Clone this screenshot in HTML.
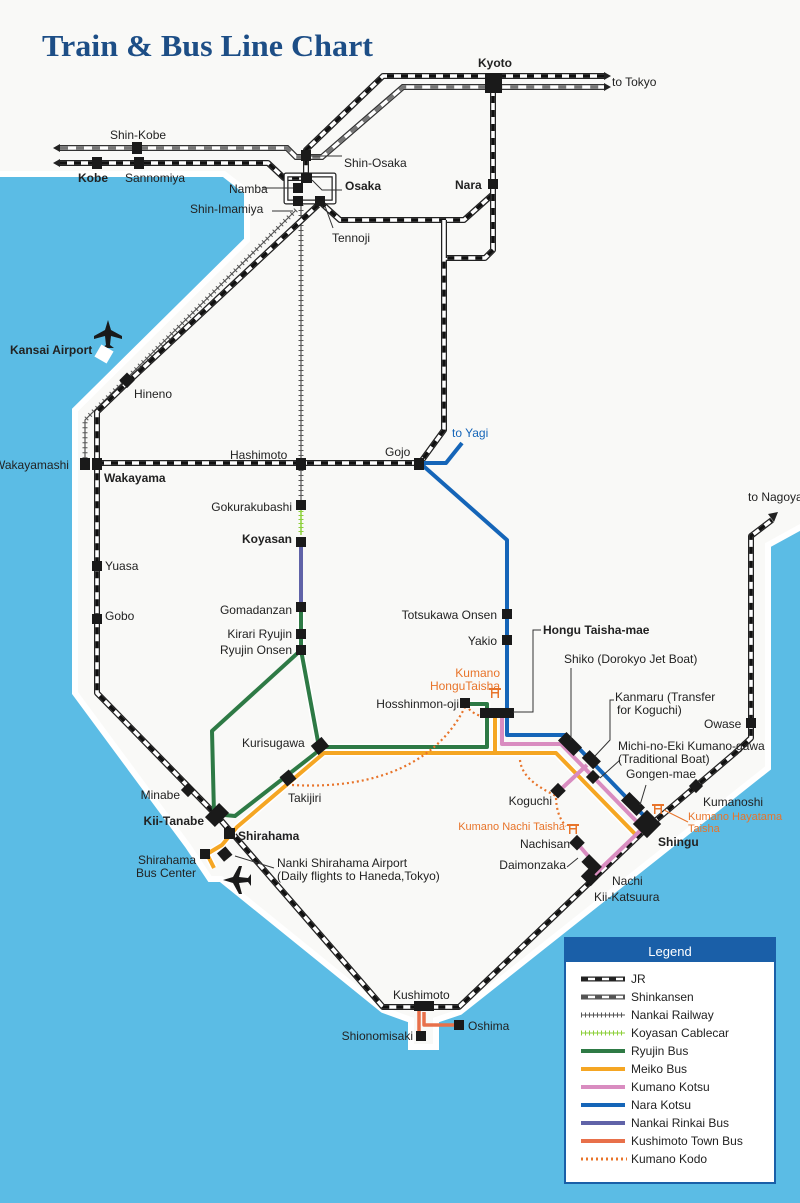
<!DOCTYPE html>
<html><head><meta charset="utf-8"><style>
html,body{margin:0;padding:0;background:#fff}
svg{display:block}
text{font-family:"Liberation Sans",sans-serif;font-size:12px;fill:#222}
.b{font-weight:bold}
.o{fill:#e8742a}
.r{text-anchor:end}
</style></head><body>
<svg width="800" height="1203" viewBox="0 0 800 1203" xmlns="http://www.w3.org/2000/svg">
<defs>
<path id="shk" d="M60,148 H287 L296,157 H322 L403,87 H604"/>
<path id="jr1" d="M604,76 H383 L306,150 V178"/>
<path id="jr2" d="M60,163 H268 L284,178 H306"/>
<path id="loop" d="M286,175 H334 V202 H286 Z"/>
<path id="jr3" d="M320,202 L340,220 H464 L492,195"/>
<path id="jr4" d="M493,82 V250 L485,258 H444 V430 L420,463"/>
<path id="jr5" d="M444,220 V258"/>
<path id="jr6" d="M318,205 L127,383 L97,412 V693 L219,818 L383,1007 H459 L648,827 L735,753 L751,738 V536 L772,520"/>
<path id="jr7" d="M97,463 H420"/>
<path id="nk1" d="M296,210 L85,420 V464"/>
<path id="nk2" d="M301,205 V505"/>
</defs>
<!-- land & sea -->
<rect width="800" height="1203" fill="#5bbce5"/>
<polygon points="-10,-10 810,-10 810,522 768,545 768,768 460,1012 436,1020 436,1047 411,1047 411,1020 383,1010 221,879 210,879 188,846 75,693 75,410 247,240 247,192 224,174 -10,174" fill="#f9f9f7" stroke="#fff" stroke-width="6"/>
<!-- title -->
<text x="42" y="56" style="font-family:'Liberation Serif',serif;font-weight:bold;font-size:31px;fill:#1d4e86" textLength="331" lengthAdjust="spacingAndGlyphs">Train &amp; Bus Line Chart</text>

<!-- Nankai railway -->
<g fill="none">
<use href="#nk1" stroke="#555" stroke-width="1.2"/><use href="#nk1" stroke="#555" stroke-width="5" stroke-dasharray="1 4"/>
<use href="#nk2" stroke="#555" stroke-width="1.2"/><use href="#nk2" stroke="#555" stroke-width="5" stroke-dasharray="1 4"/>
</g>
<!-- Shinkansen -->
<g fill="none">
<use href="#shk" stroke="#333" stroke-width="6"/><use href="#shk" stroke="#fff" stroke-width="3.5"/><use href="#shk" stroke="#777" stroke-width="3.5" stroke-dasharray="8 8"/>
</g>
<!-- JR -->
<g fill="none" stroke-linejoin="round">
<use href="#jr1" stroke="#222" stroke-width="6"/><use href="#jr1" stroke="#fff" stroke-width="3.5"/><use href="#jr1" stroke="#111" stroke-width="3.5" stroke-dasharray="7 7"/>
<use href="#jr2" stroke="#222" stroke-width="6"/><use href="#jr2" stroke="#fff" stroke-width="3.5"/><use href="#jr2" stroke="#111" stroke-width="3.5" stroke-dasharray="7 7"/>
<use href="#loop" stroke="#222" stroke-width="5"/><use href="#loop" stroke="#fff" stroke-width="2.5"/>
<use href="#jr3" stroke="#222" stroke-width="6"/><use href="#jr3" stroke="#fff" stroke-width="3.5"/><use href="#jr3" stroke="#111" stroke-width="3.5" stroke-dasharray="7 7"/>
<use href="#jr4" stroke="#222" stroke-width="6"/><use href="#jr4" stroke="#fff" stroke-width="3.5"/><use href="#jr4" stroke="#111" stroke-width="3.5" stroke-dasharray="7 7"/>
<use href="#jr5" stroke="#222" stroke-width="6"/><use href="#jr5" stroke="#fff" stroke-width="3.5"/>
<use href="#jr6" stroke="#222" stroke-width="6"/><use href="#jr6" stroke="#fff" stroke-width="3.5"/><use href="#jr6" stroke="#111" stroke-width="3.5" stroke-dasharray="7 7"/>
<use href="#jr7" stroke="#222" stroke-width="6"/><use href="#jr7" stroke="#fff" stroke-width="3.5"/><use href="#jr7" stroke="#111" stroke-width="3.5" stroke-dasharray="7 7"/>
</g>
<!-- arrows -->
<g fill="#222">
<polygon points="604,72 611,76 604,80"/><polygon points="604,83 611,87 604,91"/>
<polygon points="60,144 53,148 60,152"/><polygon points="60,159 53,163 60,167"/>
<polygon points="768,514 778,512 774,522"/>
</g>
<!-- cablecar -->
<line x1="301" y1="507" x2="301" y2="535" stroke="#8ccf3a" stroke-width="1.5"/>
<line x1="301" y1="507" x2="301" y2="535" stroke="#8ccf3a" stroke-width="5" stroke-dasharray="1 3"/>
<!-- Nankai Rinkai -->
<line x1="301" y1="540" x2="301" y2="607" stroke="#6063a8" stroke-width="4"/>

<!-- bus lines -->
<g fill="none" stroke-linejoin="round" stroke-width="4">
<path d="M420,463 H446 L462,443" stroke="#1565b8"/>
<path d="M420,463 L507,540 V735 H566 L650,822" stroke="#1565b8"/>
<path d="M301,607 V650 L319,747 H487 V704 H465" stroke="#fff" stroke-width="7"/>
<path d="M301,607 V650 L319,747 H487 V704 H465" stroke="#2e7a45"/>
<path d="M301,650 L212,731 L214,814 L235,816 L321,749" stroke="#2e7a45"/>
<path d="M495,708 V753 M214,868 L207,854 L222,845 L237,827 L324,753 H556 L636,835" stroke="#fff" stroke-width="7"/>
<path d="M495,708 V753 M214,868 L207,854 L222,845 L237,827 L324,753 H556 L636,835" stroke="#f5a623"/>
<path d="M502,712 V744 H561 L643,828 L592,877 M577,843 L600,870 M559,791 L587,765" stroke="#d98cc0"/>
<path d="M419,1008 V1036 M424,1012 V1025 H459" stroke="#e8704a" stroke-width="3.5"/>
</g>
<!-- Kumano Kodo -->
<g fill="none" stroke="#e8742a" stroke-width="2.2" stroke-dasharray="2 3">
<path d="M292,785 C380,790 440,760 466,705"/>
<path d="M466,705 C470,712 476,714 480,716"/>
<path d="M520,760 C522,780 545,790 556,796 C556,810 560,820 566,826"/>
</g>

<!-- stations -->
<g fill="#1a1a1a">
<rect x="485" y="73" width="17" height="20"/>
<rect x="301" y="150" width="10" height="11"/>
<rect x="132" y="142" width="10" height="12"/><rect x="92" y="157" width="10" height="12"/><rect x="134" y="157" width="10" height="12"/>
<rect x="301" y="173" width="11" height="10"/><rect x="293" y="183" width="10" height="10"/><rect x="293" y="196" width="10" height="10"/><rect x="315" y="196" width="10" height="10"/>
<rect x="488" y="179" width="10" height="10"/>
<rect x="122" y="375" width="11" height="11" transform="rotate(-45 127 381)"/>
<rect x="80" y="458" width="10" height="12"/><rect x="92" y="458" width="10" height="12"/>
<rect x="296" y="458" width="10" height="12"/>
<rect x="414" y="458" width="10" height="12"/>
<rect x="296" y="500" width="10" height="10"/><rect x="296" y="537" width="10" height="10"/>
<rect x="92" y="561" width="10" height="10"/><rect x="92" y="614" width="10" height="10"/>
<rect x="296" y="602" width="10" height="10"/><rect x="296" y="629" width="10" height="10"/><rect x="296" y="645" width="10" height="10"/>
<rect x="502" y="609" width="10" height="10"/><rect x="502" y="635" width="10" height="10"/>
<rect x="460" y="698" width="10" height="10"/>
<rect x="480" y="708" width="34" height="10"/>
<rect x="746" y="718" width="10" height="10"/>
<rect x="313" y="740" width="14" height="12" transform="rotate(-40 320 746)"/>
<rect x="282" y="772" width="12" height="12" transform="rotate(-40 288 778)"/>
<rect x="183" y="785" width="10" height="10" transform="rotate(-45 188 790)"/>
<rect x="207" y="808" width="20" height="14" transform="rotate(-45 217 815)"/>
<rect x="224" y="828" width="11" height="11"/>
<rect x="200" y="849" width="10" height="10"/><rect x="219" y="849" width="11" height="11" transform="rotate(-40 224 854)"/>
<rect x="559" y="738" width="22" height="12" transform="rotate(45 570 744)"/>
<rect x="583" y="754" width="16" height="11" transform="rotate(45 591 760)"/>
<rect x="588" y="772" width="10" height="10" transform="rotate(45 593 777)"/>
<rect x="553" y="785" width="11" height="11" transform="rotate(45 558 790)"/>
<rect x="622" y="798" width="22" height="12" transform="rotate(45 633 804)"/>
<rect x="637" y="814" width="20" height="20" transform="rotate(45 647 824)"/>
<rect x="691" y="781" width="10" height="10" transform="rotate(45 696 786)"/>
<rect x="572" y="837" width="11" height="11" transform="rotate(45 577 842)"/>
<rect x="583" y="859" width="18" height="11" transform="rotate(45 592 864)"/>
<rect x="583" y="872" width="14" height="11" transform="rotate(45 590 877)"/>
<rect x="414" y="1001" width="20" height="10"/>
<rect x="416" y="1031" width="10" height="10"/><rect x="454" y="1020" width="10" height="10"/>
</g>
<!-- leader lines -->
<g stroke="#333" stroke-width="1" fill="none">
<path d="M311,156 H342"/><path d="M262,188 H293"/><path d="M312,180 L322,190 H342"/><path d="M272,211 H293"/><path d="M325,206 L333,228"/>
<path d="M513,712 H533 V630 H541"/>
<path d="M571,740 V668"/><path d="M595,756 L610,740 V700 H614"/><path d="M600,778 L620,760"/><path d="M640,805 L646,785"/>
<path d="M567,867 L578,858"/><path d="M235,856 L274,868"/>
</g>
<!-- torii -->
<g fill="#e8742a"><rect x="489" y="688" width="12" height="2"/><rect x="491" y="692" width="8" height="1.5"/><rect x="491" y="688" width="1.5" height="10"/><rect x="497.5" y="688" width="1.5" height="10"/>
<rect x="652" y="804" width="12" height="2"/><rect x="654" y="808" width="8" height="1.5"/><rect x="654" y="804" width="1.5" height="10"/><rect x="660.5" y="804" width="1.5" height="10"/>
<rect x="567" y="824" width="12" height="2"/><rect x="569" y="828" width="8" height="1.5"/><rect x="569" y="824" width="1.5" height="10"/><rect x="575.5" y="824" width="1.5" height="10"/></g>
<path d="M664,810 L688,822" stroke="#e8742a" stroke-width="1"/>
<!-- planes -->
<g fill="#1a1a1a">
<path d="M108,320 L111,330 L122,336 L122,339 L111,336 L110,345 L114,348 L102,348 L106,345 L105,336 L94,339 L94,336 L105,330 Z"/>
<path d="M223,880 L233,877 L239,866 L242,866 L239,877 L248,878 L251,874 L251,886 L248,882 L239,883 L242,894 L239,894 L233,883 L223,880 Z"/>
</g>
<rect x="97" y="347" width="14" height="14" fill="#fff" transform="rotate(30 104 354)"/>

<!-- labels -->
<text x="478" y="67" class="b">Kyoto</text>
<text x="612" y="86">to Tokyo</text>
<text x="110" y="139">Shin-Kobe</text>
<text x="78" y="182" class="b">Kobe</text><text x="125" y="182">Sannomiya</text>
<text x="344" y="167">Shin-Osaka</text>
<text x="229" y="193">Namba</text><text x="345" y="190" class="b">Osaka</text>
<text x="190" y="213">Shin-Imamiya</text><text x="332" y="242">Tennoji</text>
<text x="455" y="189" class="b">Nara</text>
<text x="10" y="354" class="b">Kansai Airport</text>
<text x="134" y="398">Hineno</text>
<text x="230" y="459">Hashimoto</text><text x="385" y="456">Gojo</text>
<text x="452" y="437" style="fill:#1565b8">to Yagi</text>
<text x="-6" y="469">Wakayamashi</text><text x="104" y="482" class="b">Wakayama</text>
<text x="748" y="501">to Nagoya</text>
<text x="292" y="511" class="r">Gokurakubashi</text>
<text x="292" y="543" class="r b">Koyasan</text>
<text x="105" y="570">Yuasa</text><text x="105" y="620">Gobo</text>
<text x="292" y="614" class="r">Gomadanzan</text>
<text x="292" y="638" class="r">Kirari Ryujin</text>
<text x="292" y="654" class="r">Ryujin Onsen</text>
<text x="497" y="619" class="r">Totsukawa Onsen</text>
<text x="497" y="645" class="r">Yakio</text>
<text x="543" y="634" class="b">Hongu Taisha-mae</text>
<text x="564" y="663">Shiko (Dorokyo Jet Boat)</text>
<text x="500" y="677" class="r o">Kumano</text><text x="500" y="690" class="r o">HonguTaisha</text>
<text x="459" y="708" class="r">Hosshinmon-oji</text>
<text x="615" y="701">Kanmaru (Transfer</text><text x="617" y="714">for Koguchi)</text>
<text x="704" y="728">Owase</text>
<text x="618" y="750">Michi-no-Eki Kumano-gawa</text><text x="618" y="763">(Traditional Boat)</text>
<text x="626" y="778">Gongen-mae</text>
<text x="242" y="747">Kurisugawa</text>
<text x="288" y="802">Takijiri</text>
<text x="552" y="805" class="r">Koguchi</text>
<text x="703" y="806">Kumanoshi</text>
<text x="688" y="820" class="o" style="font-size:11px">Kumano Hayatama</text><text x="688" y="832" class="o" style="font-size:11px">Taisha</text>
<text x="658" y="846" class="b">Shingu</text>
<text x="565" y="830" class="r o" style="font-size:11px">Kumano Nachi Taisha</text>
<text x="570" y="848" class="r">Nachisan</text>
<text x="566" y="869" class="r">Daimonzaka</text>
<text x="612" y="885">Nachi</text><text x="594" y="901">Kii-Katsuura</text>
<text x="180" y="799" class="r">Minabe</text>
<text x="204" y="825" class="r b">Kii-Tanabe</text>
<text x="238" y="840" class="b">Shirahama</text>
<text x="196" y="864" class="r">Shirahama</text><text x="196" y="877" class="r">Bus Center</text>
<text x="277" y="867">Nanki Shirahama Airport</text><text x="277" y="880">(Daily flights to Haneda,Tokyo)</text>
<text x="393" y="999">Kushimoto</text>
<text x="413" y="1040" class="r">Shionomisaki</text>
<text x="468" y="1030">Oshima</text>

<!-- legend -->
<rect x="565" y="938" width="210" height="245" fill="#fff" stroke="#1a5fa8" stroke-width="2"/>
<rect x="565" y="938" width="210" height="24" fill="#1a5fa8"/>
<text x="670" y="956" style="fill:#fff;font-size:13px;text-anchor:middle">Legend</text>
<g fill="none">
<line x1="581" y1="979" x2="625" y2="979" stroke="#222" stroke-width="5"/><line x1="581" y1="979" x2="625" y2="979" stroke="#fff" stroke-width="2.5" stroke-dasharray="7 7" stroke-dashoffset="7"/>
<line x1="581" y1="997" x2="625" y2="997" stroke="#555" stroke-width="5"/><line x1="581" y1="997" x2="625" y2="997" stroke="#fff" stroke-width="2.5" stroke-dasharray="7 7" stroke-dashoffset="7"/>
<line x1="581" y1="1015" x2="625" y2="1015" stroke="#555" stroke-width="1"/><line x1="581" y1="1015" x2="625" y2="1015" stroke="#555" stroke-width="5" stroke-dasharray="1 3"/>
<line x1="581" y1="1033" x2="625" y2="1033" stroke="#8ccf3a" stroke-width="1"/><line x1="581" y1="1033" x2="625" y2="1033" stroke="#8ccf3a" stroke-width="5" stroke-dasharray="1 3"/>
<line x1="581" y1="1051" x2="625" y2="1051" stroke="#2e7a45" stroke-width="4"/>
<line x1="581" y1="1069" x2="625" y2="1069" stroke="#f5a623" stroke-width="4"/>
<line x1="581" y1="1087" x2="625" y2="1087" stroke="#d98cc0" stroke-width="4"/>
<line x1="581" y1="1105" x2="625" y2="1105" stroke="#1565b8" stroke-width="4"/>
<line x1="581" y1="1123" x2="625" y2="1123" stroke="#6063a8" stroke-width="4"/>
<line x1="581" y1="1141" x2="625" y2="1141" stroke="#e8704a" stroke-width="4"/>
<line x1="581" y1="1159" x2="627" y2="1159" stroke="#e8742a" stroke-width="3" stroke-dasharray="2 3"/>
</g>
<g style="font-size:12px">
<text x="631" y="983">JR</text><text x="631" y="1001">Shinkansen</text><text x="631" y="1019">Nankai Railway</text><text x="631" y="1037">Koyasan Cablecar</text>
<text x="631" y="1055">Ryujin Bus</text><text x="631" y="1073">Meiko Bus</text><text x="631" y="1091">Kumano Kotsu</text><text x="631" y="1109">Nara Kotsu</text>
<text x="631" y="1127">Nankai Rinkai Bus</text><text x="631" y="1145">Kushimoto Town Bus</text><text x="631" y="1163">Kumano Kodo</text>
</g>
</svg>
</body></html>
